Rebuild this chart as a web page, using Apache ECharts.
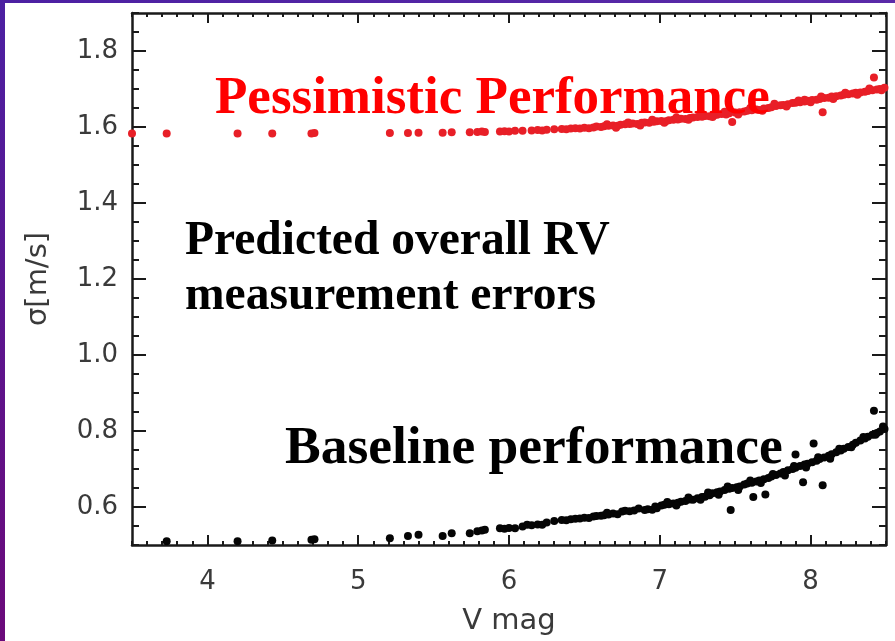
<!DOCTYPE html>
<html>
<head>
<meta charset="utf-8">
<script src="https://cdn.jsdelivr.net/npm/echarts@6/dist/echarts.min.js"></script>
<style>
html,body{margin:0;padding:0;background:#fff;}
#chart{width:895px;height:641px;}
</style>
</head>
<body>
<div id="chart"></div>
<script>
// ---- data (V magnitude, sigma in m/s) ----
const pessimisticPoints = [
[3.50,1.583],[3.73,1.583],[4.20,1.583],[4.43,1.583],[4.69,1.583],[4.71,1.584],[5.21,1.584],[5.33,1.584],[5.40,1.585],[5.56,1.585],
[5.62,1.586],[5.74,1.586],[5.79,1.587],[5.82,1.588],[5.84,1.587],[5.94,1.588],[5.97,1.589],[6.00,1.588],[6.04,1.590],[6.09,1.590],
[6.15,1.591],[6.19,1.592],[6.22,1.591],[6.25,1.593],[6.30,1.594],[6.35,1.595],[6.38,1.594],[6.41,1.596],[6.44,1.597],[6.47,1.596],
[6.50,1.598],[6.53,1.597],[6.56,1.599],[6.58,1.601],[6.61,1.600],[6.63,1.602],[6.66,1.603],[6.69,1.604],[6.72,1.603],[6.74,1.606],
[6.77,1.607],[6.80,1.608],[6.82,1.609],[6.85,1.608],[6.88,1.611],[6.90,1.612],[6.93,1.611],[6.96,1.614],[6.98,1.615],[7.01,1.616],
[7.04,1.615],[7.06,1.618],[7.09,1.619],[7.12,1.620],[7.14,1.622],[7.17,1.621],[7.20,1.624],[7.22,1.625],[7.25,1.626],[7.28,1.627],
[7.30,1.629],[7.33,1.628],[7.36,1.631],[7.38,1.632],[7.41,1.634],[7.44,1.633],[7.46,1.636],[7.48,1.613],[7.50,1.638],[7.53,1.639],
[7.56,1.641],[7.58,1.643],[7.61,1.644],[7.64,1.646],[7.66,1.645],[7.69,1.649],[7.72,1.650],[7.74,1.652],[7.77,1.655],[7.80,1.657],
[7.82,1.658],[7.85,1.660],[7.88,1.663],[7.90,1.664],[7.93,1.665],[7.96,1.667],[7.96,1.672],[7.98,1.669],[8.01,1.671],[8.04,1.672],
[8.06,1.674],[8.08,1.639],[8.09,1.676],[8.12,1.677],[8.14,1.680],[8.17,1.681],[8.20,1.683],[8.22,1.685],[8.25,1.686],[8.28,1.688],
[8.30,1.690],[8.33,1.691],[8.36,1.693],[8.38,1.695],[8.41,1.697],[8.42,1.730],[8.44,1.699],[8.46,1.700],[8.49,1.703],
[6.65,1.607],[6.71,1.598],[6.79,1.612],[6.87,1.604],[6.95,1.619],[7.03,1.611],[7.11,1.625],[7.19,1.619],[7.27,1.632],[7.35,1.626],
[7.43,1.640],[7.52,1.633],[7.60,1.650],[7.68,1.643],[7.76,1.661],[7.84,1.654],[7.92,1.670],[8.00,1.665],[8.07,1.680],[8.15,1.674],
[8.23,1.690],[8.31,1.685],[8.39,1.701],[8.47,1.697]
];
const baselinePoints = [
[3.73,0.510],[4.20,0.510],[4.43,0.512],[4.69,0.514],[4.71,0.515],[5.21,0.518],[5.33,0.524],[5.40,0.527],[5.56,0.524],[5.62,0.531],
[5.74,0.531],[5.79,0.536],[5.82,0.538],[5.84,0.540],[5.94,0.544],[5.97,0.543],[6.00,0.545],[6.04,0.544],[6.09,0.549],[6.12,0.553],
[6.15,0.552],[6.19,0.554],[6.22,0.553],[6.25,0.559],[6.30,0.563],[6.35,0.566],[6.38,0.565],[6.41,0.568],[6.44,0.569],[6.47,0.570],
[6.50,0.572],[6.53,0.571],[6.56,0.575],[6.58,0.576],[6.61,0.577],[6.63,0.578],[6.66,0.580],[6.69,0.583],[6.75,0.588],[6.77,0.590],
[6.80,0.589],[6.83,0.591],[6.90,0.592],[6.92,0.594],[6.95,0.593],[6.98,0.597],[7.01,0.604],[7.03,0.606],[7.06,0.607],[7.09,0.609],
[7.12,0.611],[7.14,0.614],[7.17,0.616],[7.20,0.620],[7.22,0.619],[7.25,0.623],[7.28,0.626],[7.30,0.627],[7.33,0.631],[7.35,0.636],
[7.38,0.639],[7.40,0.641],[7.43,0.645],[7.46,0.648],[7.47,0.592],[7.48,0.650],[7.51,0.652],[7.53,0.654],[7.56,0.659],[7.58,0.662],
[7.61,0.664],[7.62,0.626],[7.64,0.667],[7.66,0.670],[7.69,0.673],[7.70,0.633],[7.72,0.676],[7.74,0.680],[7.77,0.684],[7.80,0.688],
[7.82,0.692],[7.85,0.697],[7.88,0.700],[7.90,0.703],[7.90,0.738],[7.93,0.708],[7.95,0.665],[7.96,0.712],[7.98,0.714],[8.01,0.718],
[8.02,0.767],[8.04,0.722],[8.06,0.726],[8.08,0.657],[8.09,0.730],[8.12,0.735],[8.14,0.739],[8.17,0.744],[8.20,0.749],[8.22,0.753],
[8.25,0.758],[8.28,0.764],[8.30,0.769],[8.33,0.775],[8.36,0.780],[8.38,0.785],[8.41,0.790],[8.42,0.853],[8.44,0.795],[8.46,0.799],
[8.49,0.805],
[6.65,0.585],[6.72,0.581],[6.86,0.596],[6.97,0.601],[7.05,0.613],[7.11,0.604],[7.19,0.625],[7.27,0.619],[7.32,0.638],[7.39,0.632],
[7.45,0.654],[7.52,0.645],[7.60,0.670],[7.67,0.663],[7.75,0.687],[7.83,0.683],[7.89,0.708],[7.97,0.704],[8.05,0.731],[8.13,0.727],
[8.19,0.753],[8.27,0.757],[8.35,0.784],[8.43,0.790],[8.48,0.812]
];
const xMajorTicks = [4,5,6,7,8];
const yMajorTicks = [0.6,0.8,1.0,1.2,1.4,1.6,1.8];
const xRange = [3.5, 8.5];
const yRange = [0.5, 1.9];
const xTitle = 'V mag';
const yTitle = 'σ[m/s]';
const labelPessimistic = 'Pessimistic Performance';
const labelBaseline = 'Baseline performance';
const labelPredicted = ['Predicted overall RV', 'measurement errors'];

const AX = '#1a1a1a';
const labelStyle = {fontFamily:'DejaVu Sans', fontSize:26, color:'#3a3a3a'};
const titleStyle = {fontFamily:'DejaVu Sans', fontSize:29, color:'#3a3a3a'};

function xMajor(pos, withLabel){
  return {
    type:'value', min:xRange[0], max:xRange[1], position:pos,
    axisLine:{show:true, onZero:false, lineStyle:{color:AX, width:2.5}},
    axisTick:{show:true, inside:true, length:10, customValues:xMajorTicks, lineStyle:{color:AX, width:2}},
    axisLabel: withLabel ? Object.assign({show:true, customValues:xMajorTicks, margin:24}, labelStyle) : {show:false},
    splitLine:{show:false},
    name: withLabel ? xTitle : '',
    nameLocation:'middle', nameGap:62,
    nameTextStyle: titleStyle
  };
}
function xMinor(pos){
  return {
    type:'value', min:xRange[0], max:xRange[1], interval:0.1, position:pos,
    axisLine:{show:false, onZero:false},
    axisTick:{show:true, inside:true, length:4, lineStyle:{color:AX, width:2}},
    axisLabel:{show:false}, splitLine:{show:false}
  };
}
function yMajor(pos, withLabel){
  return {
    type:'value', min:yRange[0], max:yRange[1], position:pos,
    axisLine:{show:true, onZero:false, lineStyle:{color:AX, width:2.5}},
    axisTick:{show:true, inside:true, length:14, customValues:yMajorTicks, lineStyle:{color:AX, width:2}},
    axisLabel: withLabel ? Object.assign({show:true, customValues:yMajorTicks, margin:14, formatter:v=>Number(v).toFixed(1)}, labelStyle) : {show:false},
    splitLine:{show:false},
    name: withLabel ? yTitle : '',
    nameLocation:'middle', nameGap:79, nameRotate:90,
    nameTextStyle: titleStyle
  };
}
function yMinor(pos){
  return {
    type:'value', min:yRange[0], max:yRange[1], interval:0.05, position:pos,
    axisLine:{show:false, onZero:false},
    axisTick:{show:true, inside:true, length:7, lineStyle:{color:AX, width:2}},
    axisLabel:{show:false}, splitLine:{show:false}
  };
}

const serif = 'bold 53px "Liberation Serif", "Times New Roman", serif';
const serifB = 'bold 53.5px "Liberation Serif", "Times New Roman", serif';
const serif2 = 'bold 47.5px "Liberation Serif", "Times New Roman", serif';

const chart = echarts.init(document.getElementById('chart'), null, {renderer:'canvas'});
chart.setOption({
  animation:false,
  backgroundColor:'#ffffff',
  grid:{left:132, right:9, top:13, bottom:94, containLabel:false},
  xAxis:[xMajor('bottom', true), xMinor('bottom'), xMajor('top', false), xMinor('top')],
  yAxis:[yMajor('left', true), yMinor('left'), yMajor('right', false), yMinor('right')],
  series:[
    {type:'scatter', name:'Pessimistic', xAxisIndex:0, yAxisIndex:0, data:pessimisticPoints,
     symbol:'circle', symbolSize:8, itemStyle:{color:'#e81f27', opacity:1}},
    {type:'scatter', name:'Baseline', xAxisIndex:0, yAxisIndex:0, data:baselinePoints,
     symbol:'circle', symbolSize:8, itemStyle:{color:'#050505', opacity:1}}
  ],
  graphic:[
    {type:'rect', left:0, top:0, z:100, shape:{width:5, height:641},
     style:{fill:new echarts.graphic.LinearGradient(0,0,0,1,[{offset:0,color:'#4c20a2'},{offset:1,color:'#6b0a7a'}])}},
    {type:'rect', left:0, top:0, z:100, shape:{width:895, height:3},
     style:{fill:new echarts.graphic.LinearGradient(0,0,1,0,[{offset:0,color:'#4c20a2'},{offset:1,color:'#5a2aa8'}])}},
    {type:'text', x:215, y:99, z:50, style:{text:labelPessimistic, font:serif, fill:'#ff0000', verticalAlign:'middle'}},
    {type:'text', x:285, y:449, z:50, style:{text:labelBaseline, font:serifB, fill:'#000000', verticalAlign:'middle'}},
    {type:'text', x:185, y:242, z:50, style:{text:labelPredicted[0], font:serif2, fill:'#000000', verticalAlign:'middle'}},
    {type:'text', x:185, y:297, z:50, style:{text:labelPredicted[1], font:serif2, fill:'#000000', verticalAlign:'middle'}}
  ]
});
</script>
</body>
</html>
